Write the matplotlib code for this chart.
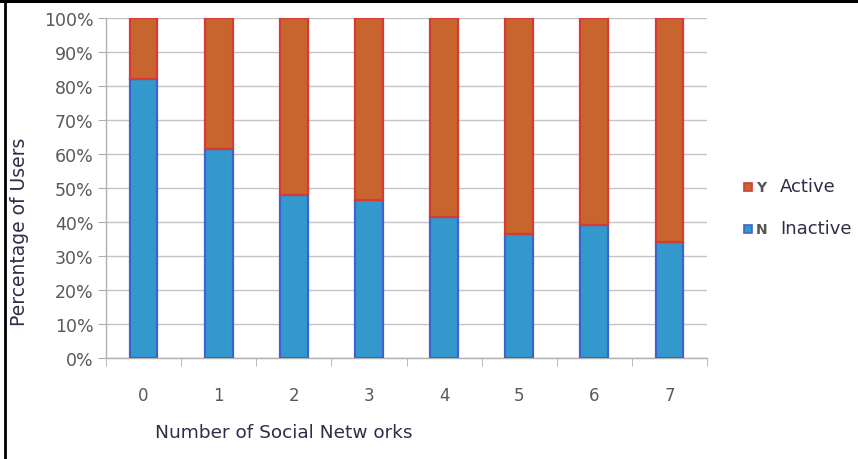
import matplotlib
matplotlib.use("Agg")
import matplotlib.pyplot as plt
from matplotlib.lines import Line2D
import numpy as np

plt.rcParams['font.family'] = ['DejaVu Sans']

categories = ['0', '1', '2', '3', '4', '5', '6', '7']
inactive = [82, 61.5, 48, 46.5, 41.5, 36.5, 39, 34]   # N Inactive (%)
active = [100 - v for v in inactive]                   # Y Active (%)
y_ticks = [0, 10, 20, 30, 40, 50, 60, 70, 80, 90, 100]

W, H = 858, 460
fig = plt.figure(figsize=(W / 100, H / 100), dpi=100)
ax = fig.add_axes([106 / W, 1 - 359 / H, (707 - 106) / W, (359 - 19) / H])

x = np.arange(len(categories))
blue_fill, blue_edge = '#3399CC', '#3E63D0'
red_fill, red_edge = '#C8652F', '#D63A33'

ax.bar(x, inactive, width=0.37, color=blue_fill, edgecolor=blue_edge, linewidth=1.6, zorder=3)
ax.bar(x, active, bottom=inactive, width=0.37, color=red_fill, edgecolor=red_edge,
       linewidth=1.6, zorder=3)

ax.set_xlim(-0.5, len(categories) - 0.5)
ax.set_ylim(0, 100)
ax.set_yticks(y_ticks)
ax.set_yticklabels([f'{v}%' for v in y_ticks])
ax.set_xticks(x)
ax.set_xticklabels(categories)
ax.set_xticks(np.arange(-0.5, len(categories)), minor=True)

ax.grid(axis='y', color='#C4C4C4', linewidth=1.0, zorder=0)
for s in ['top', 'right']:
    ax.spines[s].set_visible(False)
for s in ['left', 'bottom']:
    ax.spines[s].set_color('#B0B0B0')
    ax.spines[s].set_linewidth(1.0)

ax.tick_params(axis='y', length=6, color='#B0B0B0', labelsize=12.5, labelcolor='#595959', pad=3)
ax.tick_params(axis='x', which='major', length=0, labelsize=12, labelcolor='#595959', pad=20)
ax.tick_params(axis='x', which='minor', length=6, color='#B0B0B0')

fig.text(20 / W, 1 - 232 / H, 'Percentage of Users', rotation=90, ha='center', va='center',
         fontsize=13.5, color='#2E2E48')
fig.text(155 / W, 1 - 433 / H, 'Number of Social Netw orks', ha='left', va='center',
         fontsize=13.3, color='#2E2E48')

# legend
for ypx, fc, ec, letter, word in [(188, red_fill, red_edge, 'Y', 'Active'),
                                   (230, blue_fill, blue_edge, 'N', 'Inactive')]:
    fig.add_artist(Line2D([748 / W], [1 - ypx / H], marker='s', markersize=6,
                          markerfacecolor=fc, markeredgecolor=ec, markeredgewidth=1.2,
                          linestyle='none'))
    fig.text(756 / W, 1 - ypx / H, letter, ha='left', va='center', fontsize=10,
             color='#555555', fontweight='bold')
    fig.text(780 / W, 1 - (ypx - 1) / H, word, ha='left', va='center', fontsize=13,
             color='#2E2E48')

# frame lines at top and left
fig.add_artist(Line2D([0, 1], [1 - 1.5 / H, 1 - 1.5 / H], color='black', linewidth=2.2))
fig.add_artist(Line2D([5 / W, 5 / W], [0, 1], color='black', linewidth=2.0))

fig.savefig('out.png', dpi=100)
